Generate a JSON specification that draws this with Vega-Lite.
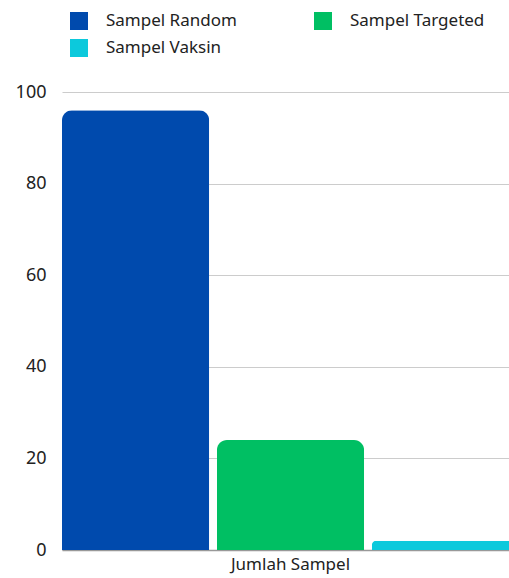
{
  "$schema": "https://vega.github.io/schema/vega-lite/v6.json",
  "width": 457,
  "height": 458,
  "padding": {"left": 15, "top": 12, "right": 0, "bottom": 5},
  "background": "white",
  "config": {
    "font": "Noto Sans",
    "view": {"stroke": null}
  },
  "data": {
    "values": [
      {"grup": "Jumlah Sampel", "kategori": "Sampel Random", "nilai": 96},
      {"grup": "Jumlah Sampel", "kategori": "Sampel Targeted", "nilai": 24},
      {"grup": "Jumlah Sampel", "kategori": "Sampel Vaksin", "nilai": 2}
    ]
  },
  "mark": {"type": "bar", "cornerRadiusTopLeft": 10, "cornerRadiusTopRight": 10},
  "encoding": {
    "x": {
      "field": "grup", "type": "nominal", "title": null,
      "scale": {"paddingInner": 0, "paddingOuter": 0},
      "axis": {"labelAngle": 0, "labelFontSize": 17, "labelColor": "#222", "ticks": false, "domainColor": "#999", "domainWidth": 1.5, "labelPadding": 6}
    },
    "xOffset": {
      "field": "kategori", "type": "nominal",
      "scale": {"paddingInner": 0.05, "paddingOuter": 0}
    },
    "y": {
      "field": "nilai", "type": "quantitative", "title": null,
      "scale": {"domain": [0, 100]},
      "axis": {"values": [0, 20, 40, 60, 80, 100], "labelFontSize": 18, "labelColor": "#222", "ticks": false, "domain": false, "gridColor": "#cccccc", "gridWidth": 1.2, "labelPadding": 16}
    },
    "color": {
      "field": "kategori", "type": "nominal",
      "scale": {"domain": ["Sampel Random", "Sampel Targeted", "Sampel Vaksin"], "range": ["#004AAD", "#00BF63", "#0CC9DC"]},
      "legend": {
        "title": null, "orient": "none", "direction": "horizontal", "legendX": 8, "legendY": -80,
        "columns": 2, "symbolType": "square", "symbolSize": 324, "symbolStrokeWidth": 0,
        "labelFontSize": 17, "labelColor": "#222", "labelOffset": 18,
        "columnPadding": 77, "rowPadding": 9, "labelLimit": 300
      }
    }
  }
}
